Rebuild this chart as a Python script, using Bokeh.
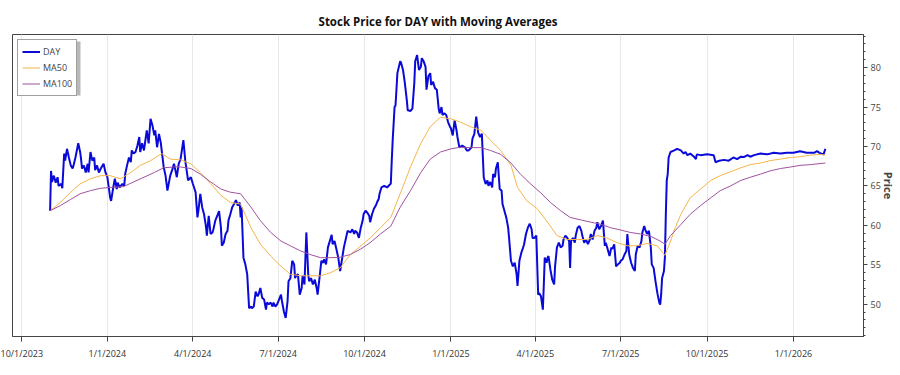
import pandas as pd
from bokeh.plotting import figure
from bokeh.models import Range1d, FixedTicker, SingleIntervalTicker, Legend, LegendItem, ColumnDataSource, BoxAnnotation
from bokeh.embed import file_html
from bokeh.resources import INLINE

START = "2023-10-01"
TITLE = "Stock Price for DAY with Moving Averages"

day_offsets = [31, 32, 33, 35, 37, 39, 40, 43, 44, 46, 47, 49, 51, 53, 55, 56, 58, 61, 63, 64, 65, 67, 69, 71, 72, 74, 76, 78, 79, 81, 83, 85, 88, 90, 92, 95, 96, 98, 100, 102, 103, 105, 108, 110, 111, 113, 115, 117, 118, 120, 122, 124, 126, 127, 129, 131, 133, 134, 136, 138, 140, 142, 143, 145, 147, 149, 152, 154, 156, 159, 161, 163, 165, 166, 168, 170, 173, 175, 178, 181, 183, 186, 188, 189, 191, 193, 195, 197, 198, 200, 202, 204, 205, 207, 209, 211, 213, 214, 216, 218, 220, 221, 223, 225, 227, 229, 231, 233, 234, 235, 237, 239, 241, 243, 245, 246, 248, 250, 252, 253, 255, 257, 259, 261, 262, 264, 266, 268, 269, 271, 273, 275, 277, 278, 280, 282, 284, 285, 287, 289, 291, 292, 293, 295, 297, 299, 300, 302, 304, 306, 307, 309, 311, 313, 315, 316, 318, 320, 322, 323, 325, 327, 329, 331, 332, 334, 336, 338, 340, 344, 348, 351, 353, 355, 356, 358, 360, 362, 364, 365, 367, 369, 371, 372, 374, 376, 378, 380, 381, 382, 384, 387, 390, 394, 395, 396, 397, 398, 399, 400, 401, 404, 405, 407, 409, 411, 412, 415, 417, 419, 420, 422, 424, 426, 427, 429, 431, 432, 434, 436, 437, 439, 441, 443, 445, 446, 448, 449, 451, 453, 455, 457, 458, 460, 462, 464, 465, 467, 470, 473, 475, 477, 480, 481, 483, 485, 487, 489, 491, 493, 495, 497, 498, 500, 502, 503, 505, 506, 508, 510, 512, 513, 515, 517, 519, 520, 522, 524, 526, 528, 529, 531, 533, 535, 536, 538, 540, 542, 544, 545, 547, 549, 551, 552, 554, 556, 557, 558, 560, 561, 562, 564, 566, 568, 569, 571, 573, 575, 577, 578, 580, 582, 584, 585, 586, 588, 590, 591, 593, 595, 597, 598, 600, 602, 604, 606, 607, 609, 611, 613, 614, 616, 618, 620, 622, 623, 625, 627, 629, 630, 632, 634, 636, 638, 639, 641, 643, 645, 646, 648, 650, 652, 654, 655, 657, 659, 661, 662, 664, 665, 667, 669, 671, 672, 674, 676, 678, 680, 681, 682, 683, 685, 686, 687, 688, 689, 690, 692, 696, 699, 703, 706, 708, 710, 713, 717, 719, 720, 724, 731, 738, 740, 744, 749, 754, 759, 763, 767, 770, 774, 777, 781, 788, 795, 802, 809, 816, 823, 830, 837, 845, 848, 852, 855, 857]

day_prices = [61.85, 66.9, 65.5, 66.3, 65.4, 66.1, 65.0, 65.25, 64.7, 69.1, 68.2, 69.7, 68.6, 67.6, 67.2, 67.6, 68.6, 70.4, 69.3, 68.4, 67.2, 67.6, 66.7, 67.8, 66.7, 69.3, 68.2, 68.6, 67.0, 67.6, 66.7, 67.2, 67.8, 66.7, 66.1, 63.5, 63.1, 64.6, 65.9, 64.6, 65.4, 64.8, 65.25, 65.0, 66.5, 67.6, 68.6, 68.0, 69.5, 69.1, 69.3, 70.1, 71.2, 69.3, 70.4, 69.5, 71.2, 72.05, 70.4, 73.5, 72.7, 71.4, 72.05, 69.9, 71.6, 70.4, 67.4, 66.3, 64.4, 66.3, 67.0, 67.8, 66.7, 66.1, 67.8, 68.4, 70.8, 68.2, 65.7, 66.1, 65.3, 64.2, 61.0, 61.85, 64.0, 62.3, 61.4, 59.9, 58.7, 61.2, 58.9, 59.1, 59.5, 60.6, 61.2, 61.8, 59.7, 57.4, 57.8, 58.9, 59.3, 60.6, 61.4, 62.3, 62.7, 63.2, 62.5, 62.9, 61.0, 62.3, 55.9, 55.05, 53.8, 49.5, 49.7, 49.5, 49.7, 51.6, 51.0, 51.2, 52.05, 50.8, 50.6, 49.3, 50.2, 50.0, 50.2, 49.7, 50.2, 49.7, 50.0, 50.6, 51.2, 50.4, 49.1, 48.25, 50.4, 52.9, 53.3, 55.5, 55.05, 53.3, 53.6, 53.8, 51.2, 52.05, 53.6, 52.5, 59.1, 53.8, 52.9, 53.3, 52.5, 53.1, 52.05, 51.2, 53.3, 55.5, 55.25, 55.7, 55.05, 57.2, 58.0, 58.8, 57.6, 58.0, 57.0, 55.9, 54.2, 57.2, 59.3, 59.1, 59.5, 58.9, 59.3, 59.1, 58.4, 59.7, 60.6, 61.4, 61.85, 61.6, 61.2, 60.4, 61.4, 62.1, 62.5, 63.1, 63.3, 64.0, 64.8, 65.0, 64.8, 65.3, 68.2, 70.8, 72.9, 75.0, 75.2, 77.2, 79.3, 80.8, 80.6, 79.7, 78.0, 75.9, 74.6, 74.5, 74.8, 78.0, 80.8, 81.6, 79.7, 80.1, 81.2, 80.8, 80.1, 77.2, 78.9, 79.3, 77.8, 78.2, 77.4, 77.2, 74.8, 74.2, 75.0, 74.0, 74.2, 74.0, 73.1, 72.5, 72.3, 71.4, 73.3, 72.05, 71.2, 69.9, 70.1, 69.9, 69.5, 69.5, 69.9, 71.0, 71.6, 73.8, 71.8, 71.2, 71.6, 66.1, 65.25, 65.7, 65.0, 65.5, 64.8, 66.5, 66.1, 67.2, 68.0, 64.6, 64.4, 62.7, 61.85, 61.0, 59.7, 58.4, 55.5, 54.8, 55.25, 53.8, 52.3, 55.5, 56.5, 57.2, 57.6, 58.9, 59.7, 60.2, 59.5, 58.4, 58.4, 58.7, 51.2, 51.4, 51.0, 49.3, 52.5, 55.9, 55.25, 55.9, 56.1, 54.4, 53.1, 52.5, 54.8, 57.2, 57.8, 57.2, 57.4, 58.2, 58.7, 58.4, 58.0, 54.6, 58.0, 58.4, 57.8, 58.7, 59.7, 59.9, 59.3, 58.7, 57.8, 58.2, 57.6, 58.2, 58.9, 58.2, 59.3, 59.7, 60.4, 59.5, 59.9, 60.6, 57.4, 57.8, 57.0, 56.1, 57.2, 57.0, 57.6, 54.8, 55.05, 55.25, 55.5, 55.7, 56.3, 56.75, 58.9, 56.3, 55.25, 54.6, 54.2, 56.3, 57.4, 57.2, 58.0, 59.1, 59.9, 59.5, 58.9, 59.3, 57.2, 55.05, 54.6, 52.9, 51.4, 50.2, 49.95, 51.2, 53.3, 54.2, 55.9, 61.4, 65.7, 66.5, 68.6, 69.3, 69.5, 69.7, 69.5, 69.1, 69.3, 68.9, 69.1, 68.7, 68.4, 69.0, 68.9, 69.0, 68.9, 68.0, 68.2, 68.3, 68.2, 68.6, 68.4, 68.7, 68.65, 68.9, 68.7, 68.9, 69.1, 69.0, 69.2, 69.1, 69.2, 69.2, 69.4, 69.2, 69.2, 69.4, 69.1, 69.0, 69.7]

ma50_offsets = [31, 42, 53, 63, 74, 85, 95, 106, 117, 127, 138, 150, 159, 170, 181, 191, 202, 213, 223, 234, 245, 255, 266, 277, 287, 298, 308, 319, 330, 340, 351, 362, 372, 383, 394, 404, 415, 426, 436, 447, 458, 468, 479, 490, 500, 511, 522, 529, 539, 550, 561, 571, 582, 593, 603, 614, 624, 635, 646, 656, 667, 678, 686, 692, 697, 703, 713, 724, 735, 745, 756, 767, 777, 788, 798, 809, 820, 830, 841, 852, 857]
ma50_values = [61.85, 62.9, 64.2, 65.25, 65.9, 66.3, 66.3, 65.9, 66.7, 67.6, 68.2, 69.1, 68.4, 68.3, 67.8, 66.7, 65.3, 63.8, 62.9, 62.7, 59.7, 57.6, 56.1, 54.8, 53.8, 53.6, 53.6, 53.6, 54.0, 54.6, 56.3, 57.4, 58.4, 59.7, 61.0, 64.0, 67.4, 70.4, 72.5, 73.7, 73.5, 73.1, 72.5, 72.05, 70.8, 69.5, 67.6, 64.8, 63.1, 62.1, 60.4, 58.7, 58.2, 58.2, 58.2, 58.7, 58.4, 57.8, 57.4, 57.4, 57.7, 57.4, 56.2, 58.0, 59.7, 61.4, 63.5, 64.6, 65.7, 66.3, 66.8, 67.3, 67.7, 67.9, 68.2, 68.4, 68.6, 68.7, 68.9, 69.0, 68.9]

ma100_offsets = [31, 42, 53, 63, 74, 85, 95, 109, 120, 131, 142, 152, 163, 170, 181, 191, 202, 213, 223, 234, 245, 255, 266, 277, 287, 298, 308, 319, 330, 340, 351, 362, 372, 383, 394, 404, 415, 426, 436, 447, 458, 468, 479, 490, 500, 511, 522, 532, 543, 553, 564, 575, 585, 596, 607, 617, 628, 639, 649, 660, 671, 681, 686, 692, 703, 713, 724, 735, 745, 756, 767, 777, 788, 798, 809, 820, 830, 841, 857]
ma100_values = [61.85, 62.5, 63.3, 64.0, 64.4, 64.7, 64.8, 64.9, 65.5, 66.1, 66.7, 67.3, 67.4, 67.4, 67.2, 66.5, 65.5, 64.6, 64.2, 64.0, 62.3, 60.6, 59.1, 58.0, 57.4, 56.75, 56.3, 55.9, 55.9, 55.95, 56.3, 57.0, 57.8, 58.9, 59.9, 62.3, 64.4, 66.7, 68.4, 69.3, 69.7, 69.9, 69.85, 69.85, 69.5, 69.0, 67.9, 66.5, 65.25, 64.2, 62.9, 61.85, 61.0, 60.7, 60.4, 60.15, 59.7, 59.4, 59.1, 58.9, 58.6, 58.0, 57.6, 58.7, 60.1, 61.4, 62.5, 63.5, 64.4, 65.0, 65.7, 66.1, 66.5, 66.9, 67.2, 67.4, 67.6, 67.7, 67.9]

tick_dates = ["2023-10-01", "2024-01-01", "2024-04-01", "2024-07-01", "2024-10-01",
              "2025-01-01", "2025-04-01", "2025-07-01", "2025-10-01", "2026-01-01"]
tick_labels = ["10/1/2023", "1/1/2024", "4/1/2024", "7/1/2024", "10/1/2024",
               "1/1/2025", "4/1/2025", "7/1/2025", "10/1/2025", "1/1/2026"]

start = pd.Timestamp(START)
def to_dates(offsets):
    return start + pd.to_timedelta(offsets, unit="D")

src_day = ColumnDataSource(dict(date=to_dates(day_offsets), price=day_prices))
src_50 = ColumnDataSource(dict(date=to_dates(ma50_offsets), price=ma50_values))
src_100 = ColumnDataSource(dict(date=to_dates(ma100_offsets), price=ma100_values))

x_start = start - pd.Timedelta(days=9.06)
x_end = start + pd.Timedelta(days=897.6)

p = figure(width=900, height=375, x_axis_type="datetime", y_axis_location="right",
           output_backend="svg", toolbar_location=None,
           x_range=Range1d(x_start, x_end), y_range=Range1d(45.9, 84.2),
           min_border_left=12, min_border_right=37, min_border_top=34, min_border_bottom=39,
           background_fill_color="white", border_fill_color="white")

p.title.text = TITLE
p.title.align = "center"
p.title.text_font = "Open Sans"
p.title.text_font_style = "bold"
p.title.text_font_size = "11.5px"
p.title.text_color = "#111111"
p.title.standoff = 12

p.outline_line_color = "#444444"
p.outline_line_width = 1

r_day = p.line("date", "price", source=src_day, line_color="#0a0ad8", line_width=2)
r_50 = p.line("date", "price", source=src_50, line_color="#f5b548", line_width=1)
r_100 = p.line("date", "price", source=src_100, line_color="#a052a0", line_width=1)

tick_ms = [pd.Timestamp(d).value / 1e6 for d in tick_dates]
xaxis = p.xaxis[0]
xaxis.ticker = FixedTicker(ticks=tick_ms, minor_ticks=[])
xaxis.major_label_overrides = {t: lab for t, lab in zip(tick_ms, tick_labels)}
xaxis.major_label_text_font = "Open Sans"
xaxis.major_label_text_font_size = "9px"
xaxis.major_label_text_color = "#333333"
xaxis.major_label_standoff = 5
xaxis.major_tick_out = 5
xaxis.major_tick_in = 0
xaxis.axis_line_color = "#444444"
xaxis.major_tick_line_color = "#444444"

yaxis = p.yaxis[0]
yaxis.ticker = SingleIntervalTicker(interval=5, num_minor_ticks=5)
yaxis.major_label_text_font = "Open Sans"
yaxis.major_label_text_font_size = "9px"
yaxis.major_label_text_color = "#444444"
yaxis.major_label_standoff = 3
yaxis.major_tick_out = 4
yaxis.major_tick_in = 0
yaxis.minor_tick_out = 2
yaxis.minor_tick_in = 0
yaxis.axis_line_color = "#444444"
yaxis.major_tick_line_color = "#444444"
yaxis.minor_tick_line_color = "#444444"
yaxis.axis_label = "Price"
yaxis.axis_label_text_font = "Open Sans"
yaxis.axis_label_text_font_style = "bold"
yaxis.axis_label_text_font_size = "11px"
yaxis.axis_label_standoff = -3

p.ygrid.visible = False
p.xgrid.ticker = FixedTicker(ticks=tick_ms)
p.xgrid.grid_line_color = "#e8e8e8"

shadow = BoxAnnotation(left=19, right=80, top=41, bottom=95,
                       left_units="canvas", right_units="canvas",
                       top_units="canvas", bottom_units="canvas",
                       fill_color="#9a9a9a", fill_alpha=0.7, line_color=None)
p.add_layout(shadow)

legend = Legend(items=[LegendItem(label="DAY", renderers=[r_day]),
                       LegendItem(label="MA50", renderers=[r_50]),
                       LegendItem(label="MA100", renderers=[r_100])],
                location="top_left")
legend.margin = 5
legend.padding = 4
legend.spacing = 1
legend.label_height = 15
legend.glyph_height = 15
legend.glyph_width = 18
legend.label_standoff = 3
legend.label_text_font = "Open Sans"
legend.label_text_font_size = "9px"
legend.border_line_color = "#444444"
legend.border_line_width = 1
legend.background_fill_color = "white"
legend.background_fill_alpha = 1
p.add_layout(legend)

open("out.html", "w").write(file_html(p, INLINE))
